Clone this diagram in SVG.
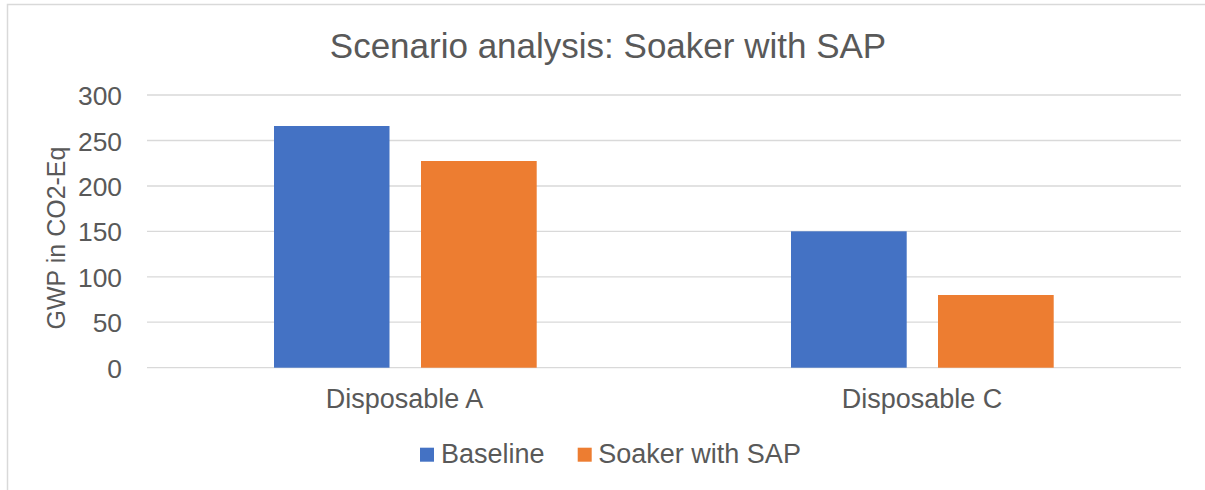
<svg xmlns="http://www.w3.org/2000/svg" width="1205" height="490" viewBox="0 0 1205 490">
<style>
text{font-family:"Liberation Sans",Arial,sans-serif;fill:#595959}
.grid{stroke:#D9D9D9;stroke-width:1.3}
.tick{font-size:26.4px;text-anchor:end}
.cat{font-size:27px;text-anchor:middle}
.leg{font-size:27px}
.base{fill:#4472C4}
.soak{fill:#ED7D31}
</style>
<rect x="0" y="0" width="1205" height="490" fill="#fff"/>
<rect x="7.5" y="4.5" width="1210" height="500" fill="none" stroke="#D9D9D9" stroke-width="1.5"/>
<text x="608" y="58" font-size="35" text-anchor="middle">Scenario analysis: Soaker with SAP</text>
<g id="gridlines">
<line class="grid" x1="147" y1="95" x2="1181" y2="95"/>
<line class="grid" x1="147" y1="140.5" x2="1181" y2="140.5"/>
<line class="grid" x1="147" y1="186" x2="1181" y2="186"/>
<line class="grid" x1="147" y1="231.4" x2="1181" y2="231.4"/>
<line class="grid" x1="147" y1="276.8" x2="1181" y2="276.8"/>
<line class="grid" x1="147" y1="322.2" x2="1181" y2="322.2"/>
<line class="grid" x1="147" y1="367.7" x2="1181" y2="367.7"/>
</g>
<g id="y-axis">
<text class="tick" x="122" y="105">300</text>
<text class="tick" x="122" y="150.5">250</text>
<text class="tick" x="122" y="196">200</text>
<text class="tick" x="122" y="241.4">150</text>
<text class="tick" x="122" y="286.8">100</text>
<text class="tick" x="122" y="332.2">50</text>
<text class="tick" x="122" y="377.7">0</text>
<text x="65" y="238" font-size="25" text-anchor="middle" transform="rotate(-90 65 238)">GWP in CO2-Eq</text>
</g>
<g id="disposable-a">
<rect class="base" x="274" y="126" width="115.5" height="241.7"/>
<rect class="soak" x="421" y="161" width="115.7" height="206.7"/>
<text class="cat" x="404.5" y="408.3">Disposable A</text>
</g>
<g id="disposable-c">
<rect class="base" x="791" y="231.3" width="115.7" height="136.4"/>
<rect class="soak" x="938" y="295" width="115.7" height="72.7"/>
<text class="cat" x="922" y="408.3">Disposable C</text>
</g>
<g id="legend">
<rect class="base" x="420" y="447.7" width="14" height="14"/>
<text class="leg" x="441" y="462.7">Baseline</text>
<rect class="soak" x="577.7" y="447.7" width="14" height="14"/>
<text class="leg" x="598.3" y="462.7">Soaker with SAP</text>
</g>
</svg>
